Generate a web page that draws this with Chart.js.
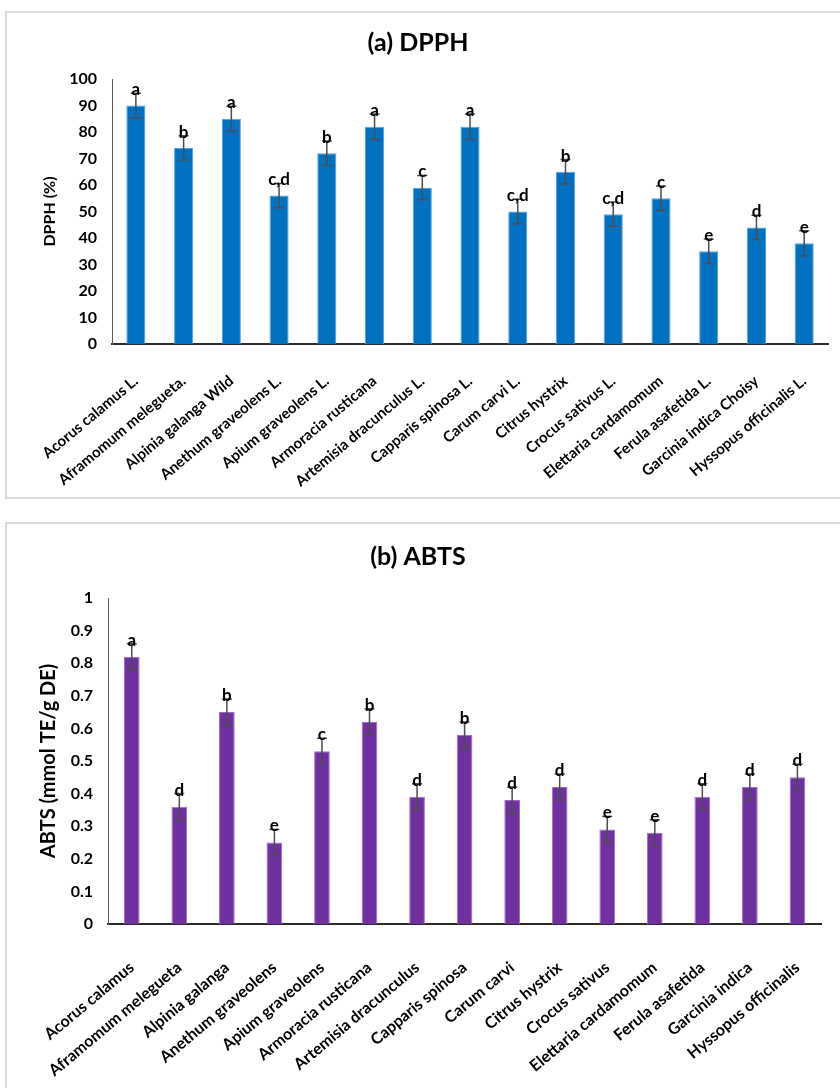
<!DOCTYPE html>
<html>
<head>
<meta charset="utf-8">
<title>DPPH and ABTS antioxidant activity</title>
<script src="https://cdn.jsdelivr.net/npm/chart.js@4.4.1/dist/chart.umd.min.js"></script>
<style>
  html, body { margin: 0; padding: 0; background: #fff; overflow: hidden; }
  body { width: 840px; height: 1088px; position: relative; }
  .panel { position: absolute; border: 2px solid #dadada; box-sizing: border-box; }
  #panel-dpph { left: 5px; top: 11px; width: 845px; height: 488px; }
  #panel-abts { left: 5px; top: 522px; width: 845px; height: 620px; }
  canvas { position: absolute; }
  #dpph-chart { left: 7px; top: 12px; }
  #abts-chart { left: 7px; top: 523px; }
</style>
</head>
<body>
<div class="panel" id="panel-dpph"></div>
<div class="panel" id="panel-abts"></div>
<canvas id="dpph-chart" width="829" height="485"></canvas>
<canvas id="abts-chart" width="829" height="565"></canvas>

<script>
const FONT = "Lato, 'Open Sans', sans-serif";

// (a) DPPH radical scavenging, %
const dpphSpecies = [
  'Acorus calamus L.', 'Aframomum melegueta.', 'Alpinia galanga Wild', 'Anethum graveolens L.',
  'Apium graveolens L.', 'Armoracia rusticana', 'Artemisia dracunculus L.', 'Capparis spinosa L.',
  'Carum carvi L.', 'Citrus hystrix', 'Crocus sativus L.', 'Elettaria cardamomum',
  'Ferula asafetida L.', 'Garcinia indica Choisy', 'Hyssopus officinalis L.'
];
const dpphValues = [90, 74, 85, 56, 72, 82, 59, 82, 50, 65, 49, 55, 35, 44, 38];
const dpphErrors = [4.6, 4.6, 4.7, 4.6, 4.6, 4.8, 4.6, 4.8, 4.6, 4.6, 4.6, 4.6, 4.6, 4.6, 4.7];
const dpphGroups = ['a', 'b', 'a', 'c,d', 'b', 'a', 'c', 'a', 'c,d', 'b', 'c,d', 'c', 'e', 'd', 'e'];
const dpphAxis = { min: 0, max: 100, step: 10 };

// (b) ABTS, mmol TE/g DE
const abtsSpecies = [
  'Acorus calamus', 'Aframomum melegueta', 'Alpinia galanga', 'Anethum graveolens',
  'Apium graveolens', 'Armoracia rusticana', 'Artemisia dracunculus', 'Capparis spinosa',
  'Carum carvi', 'Citrus hystrix', 'Crocus sativus', 'Elettaria cardamomum',
  'Ferula asafetida', 'Garcinia indica', 'Hyssopus officinalis'
];
const abtsValues = [0.82, 0.36, 0.65, 0.25, 0.53, 0.62, 0.39, 0.58, 0.38, 0.42, 0.29, 0.28, 0.39, 0.42, 0.45];
const abtsErrors = [0.04, 0.04, 0.04, 0.04, 0.04, 0.04, 0.04, 0.04, 0.04, 0.04, 0.04, 0.04, 0.04, 0.04, 0.04];
const abtsGroups = ['a', 'd', 'b', 'e', 'c', 'b', 'd', 'b', 'd', 'd', 'e', 'e', 'd', 'd', 'd'];
const abtsAxis = { min: 0, max: 1, step: 0.1 };

// error whiskers plus the significance letters above them
const errorBarPlugin = {
  id: 'errorBars',
  afterDatasetsDraw(chart, args, opts) {
    const { ctx } = chart;
    const y = chart.scales.y;
    const meta = chart.getDatasetMeta(0);
    ctx.save();
    meta.data.forEach((bar, i) => {
      const v = opts.values[i];
      const err = opts.errors[i];
      const top = y.getPixelForValue(v + err);
      const bottom = y.getPixelForValue(v - err);
      const x = bar.x;
      ctx.strokeStyle = '#4d4d4d';
      ctx.lineWidth = 1.5;
      ctx.beginPath();
      ctx.moveTo(x, top);
      ctx.lineTo(x, bottom);
      ctx.moveTo(x - 5, top);
      ctx.lineTo(x + 5, top);
      ctx.moveTo(x - 5, bottom);
      ctx.lineTo(x + 5, bottom);
      ctx.stroke();

      ctx.fillStyle = '#000';
      ctx.font = `bold ${opts.letterSize}px ${FONT}`;
      ctx.textAlign = 'center';
      ctx.textBaseline = 'alphabetic';
      ctx.fillText(opts.groups[i], x, top + 2);
    });
    ctx.restore();
  }
};

function buildChart(canvasId, cfg) {
  const ctx = document.getElementById(canvasId);

  return new Chart(ctx, {
    type: 'bar',
    data: {
      labels: cfg.labels,
      datasets: [
        {
          data: cfg.values,
          backgroundColor: cfg.color,
          borderColor: cfg.edge,
          borderWidth: 1,
          categoryPercentage: 1,
          barPercentage: cfg.barPercentage
        }
      ]
    },
    options: {
      responsive: false,
      animation: false,
      events: [],
      layout: { padding: { left: 0, right: 7, top: 0, bottom: 0 } },
      plugins: {
        legend: { display: false },
        tooltip: { enabled: false },
        title: {
          display: true,
          text: cfg.title,
          color: '#000',
          font: { family: FONT, size: 25, weight: 'bold', lineHeight: 1.2 },
          padding: cfg.titlePadding
        },
        errorBars: {
          values: cfg.values,
          errors: cfg.errors,
          groups: cfg.groups,
          letterSize: cfg.letterSize
        }
      },
      scales: {
        x: {
          grid: { display: false },
          border: { display: true, color: '#2b2b2b', width: 2 },
          ticks: {
            color: '#000',
            autoSkip: false,
            minRotation: 40,
            maxRotation: 40,
            padding: cfg.xTickPadding,
            font: { family: FONT, size: cfg.xFontSize, weight: 'bold' }
          },
          afterFit(scale) {
            scale.height = cfg.xHeight;
          }
        },
        y: {
          min: cfg.axis.min,
          max: cfg.axis.max,
          grid: { display: false },
          border: { display: true, color: '#5a5a5a', width: 1 },
          ticks: {
            stepSize: cfg.axis.step,
            color: '#000',
            padding: 7,
            font: { family: FONT, size: 16, weight: 'bold' },
            callback: (value) => String(Math.round(value * 10) / 10)
          },
          title: {
            display: true,
            text: cfg.yTitle,
            color: '#000',
            font: { family: FONT, size: cfg.yTitleSize, weight: 'bold', lineHeight: 1.2 },
            padding: { top: cfg.yTitleOffset, bottom: 0 }
          },
          afterFit(scale) {
            scale.width = cfg.yWidth;
          }
        }
      }
    },
    plugins: [errorBarPlugin]
  });
}

buildChart('dpph-chart', {
  title: '(a) DPPH',
  titlePadding: { top: 16, bottom: 21 },
  labels: dpphSpecies,
  values: dpphValues,
  errors: dpphErrors,
  groups: dpphGroups,
  axis: dpphAxis,
  color: '#0070c0',
  edge: '#4fa3e3',
  barPercentage: 0.4,
  letterSize: 17,
  xFontSize: 15,
  xTickPadding: 20,
  xHeight: 153,
  yTitle: 'DPPH (%)',
  yTitleSize: 16,
  yTitleOffset: 33,
  yWidth: 105
});

buildChart('abts-chart', {
  title: '(b) ABTS',
  titlePadding: { top: 19, bottom: 26 },
  labels: abtsSpecies,
  values: abtsValues,
  errors: abtsErrors,
  groups: abtsGroups,
  axis: abtsAxis,
  color: '#7030a0',
  edge: '#a06ccb',
  barPercentage: 0.33,
  letterSize: 17,
  xFontSize: 16,
  xTickPadding: 26,
  xHeight: 164,
  yTitle: 'ABTS (mmol TE/g DE)',
  yTitleSize: 20,
  yTitleOffset: 30,
  yWidth: 101
});
</script>
</body>
</html>
